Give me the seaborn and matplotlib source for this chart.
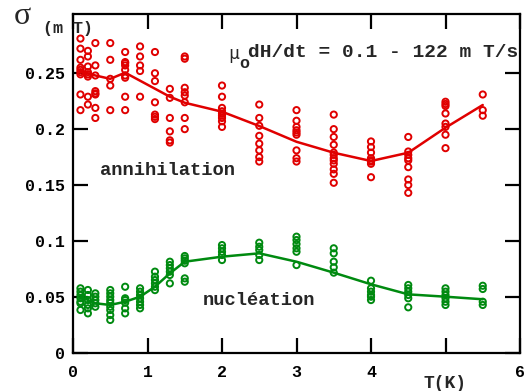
import matplotlib
matplotlib.use("Agg")
import matplotlib.pyplot as plt
import seaborn as sns
import pandas as pd

# annihilation (red) : measured sigma values per temperature
red_T = [0.1, 0.2, 0.3, 0.5, 0.7, 0.9, 1.1, 1.3, 1.5, 2.0, 2.5, 3.0, 3.5, 4.0, 4.5, 5.0, 5.5]
red_sigma = [
    [0.281, 0.272, 0.262, 0.255, 0.253, 0.251, 0.249, 0.231, 0.217],
    [0.270, 0.265, 0.256, 0.251, 0.249, 0.247, 0.229, 0.222],
    [0.277, 0.257, 0.248, 0.234, 0.232, 0.231, 0.219, 0.210],
    [0.277, 0.262, 0.245, 0.239, 0.217],
    [0.269, 0.260, 0.259, 0.257, 0.253, 0.248, 0.246, 0.229, 0.217],
    [0.274, 0.265, 0.257, 0.252, 0.229],
    [0.269, 0.250, 0.243, 0.224, 0.213, 0.211, 0.209],
    [0.236, 0.228, 0.210, 0.198, 0.190, 0.188],
    [0.265, 0.263, 0.237, 0.233, 0.230, 0.224, 0.210, 0.200],
    [0.239, 0.229, 0.219, 0.216, 0.214, 0.212, 0.210, 0.207, 0.202],
    [0.222, 0.210, 0.203, 0.194, 0.187, 0.181, 0.175, 0.171],
    [0.217, 0.2075, 0.202, 0.199, 0.197, 0.195, 0.181, 0.174, 0.171],
    [0.213, 0.200, 0.193, 0.186, 0.179, 0.177, 0.174, 0.172, 0.169, 0.164, 0.160, 0.152],
    [0.189, 0.184, 0.179, 0.174, 0.172, 0.171, 0.169, 0.157],
    [0.193, 0.180, 0.177, 0.174, 0.172, 0.166, 0.155, 0.150, 0.143],
    [0.2245, 0.2225, 0.2207, 0.214, 0.205, 0.202, 0.195, 0.183],
    [0.231, 0.217, 0.212],
]
red_line_T = [0.1, 0.3, 0.5, 0.7, 1.3, 1.5, 2.0, 2.5, 3.0, 3.5, 4.0, 4.5, 5.0, 5.5]
red_line_sigma = [0.252, 0.248, 0.245, 0.2505, 0.229, 0.2236, 0.2156, 0.2028,
                  0.1887, 0.1789, 0.1715, 0.1789, 0.2013, 0.2216]

# nucleation (green)
green_T = [0.1, 0.2, 0.3, 0.5, 0.7, 0.9, 1.1, 1.3, 1.5, 2.0, 2.5, 3.0, 3.5, 4.0, 4.5, 5.0, 5.5]
green_sigma = [
    [0.0576, 0.0546, 0.0516, 0.0487, 0.0456, 0.0442, 0.0382],
    [0.0561, 0.0516, 0.0471, 0.0427, 0.0397, 0.0352],
    [0.0531, 0.0501, 0.0471, 0.0442, 0.0411],
    [0.0561, 0.0531, 0.0501, 0.0471, 0.0447, 0.0411, 0.0382, 0.0337, 0.0293],
    [0.0590, 0.0487, 0.0471, 0.0447, 0.0397, 0.0352],
    [0.0576, 0.0546, 0.0516, 0.0487, 0.0456, 0.0427, 0.0397],
    [0.0725, 0.0680, 0.0650, 0.0620, 0.0590, 0.0560],
    [0.0814, 0.0784, 0.0755, 0.0725, 0.0695, 0.0620],
    [0.0865, 0.0844, 0.0823, 0.0800, 0.0665, 0.0635],
    [0.0963, 0.0934, 0.0903, 0.0874, 0.0829],
    [0.0984, 0.0948, 0.0919, 0.0874, 0.0829],
    [0.1038, 0.1008, 0.0972, 0.0934, 0.0903, 0.0784],
    [0.0934, 0.0889, 0.0814, 0.0764, 0.0716],
    [0.0644, 0.0576, 0.0546, 0.0516, 0.0501, 0.0471],
    [0.0606, 0.0576, 0.0546, 0.0516, 0.0487, 0.0406],
    [0.0576, 0.0546, 0.0516, 0.0487, 0.0456, 0.0427],
    [0.0599, 0.0570, 0.0456, 0.0427],
]
green_line_T = [0.1, 0.3, 0.5, 0.7, 0.9, 1.1, 1.3, 1.5, 2.0, 2.5, 3.0, 3.5, 4.0, 4.5, 5.0, 5.5]
green_line_sigma = [0.0501, 0.0442, 0.0427, 0.0456, 0.0501, 0.0590, 0.0710, 0.0814,
                    0.0859, 0.0889, 0.0814, 0.0716, 0.0612, 0.0522, 0.0501, 0.0478]

# the "5" label is replaced by the axis title T(K) in the original
x_ticks = [0, 1, 2, 3, 4, 5, 6]
x_tick_labels = ["0", "1", "2", "3", "4", "", "6"]
y_ticks = [0, 0.05, 0.1, 0.15, 0.2, 0.25]
y_tick_labels = ["0", "0.05", "0.1", "0.15", "0.2", "0.25"]

RED = "#e00000"
GREEN = "#008a10"
MONO = "Liberation Mono"


def to_frame(cols, vals):
    rows = [(t, s) for t, group in zip(cols, vals) for s in group]
    return pd.DataFrame(rows, columns=["T", "sigma"])


red_df = to_frame(red_T, red_sigma)
green_df = to_frame(green_T, green_sigma)

sns.set_style("ticks")
plt.rcParams["font.family"] = [MONO, "DejaVu Sans"]
plt.rcParams["font.weight"] = "bold"

fig = plt.figure(figsize=(5.29, 3.91), dpi=100)
ax = fig.add_axes([73 / 529, 1 - 352.7 / 391, 447 / 529, 338.7 / 391])

for df, lx, ly, col in [(red_df, red_line_T, red_line_sigma, RED),
                        (green_df, green_line_T, green_line_sigma, GREEN)]:
    sns.lineplot(x=lx, y=ly, color=col, linewidth=1.8, ax=ax, zorder=2)
    sns.scatterplot(data=df, x="T", y="sigma", marker="o", s=20,
                    facecolor="none", edgecolor=col, linewidth=1.4,
                    ax=ax, zorder=3)

ax.set_xlim(0, 6)
ax.set_ylim(0, 0.303)
ax.set_xticks(x_ticks)
ax.set_xticklabels(x_tick_labels)
ax.set_yticks(y_ticks)
ax.set_yticklabels(y_tick_labels)
ax.set_xlabel("")
ax.set_ylabel("")
for sp in ax.spines.values():
    sp.set_linewidth(1.6)
    sp.set_color("black")
ax.tick_params(direction="in", length=11, width=1.6, top=True, right=True,
               labelsize=12, colors="black")
ax.tick_params(axis="x", pad=9)
ax.tick_params(axis="y", pad=6)
for lab in ax.get_xticklabels() + ax.get_yticklabels():
    lab.set_fontweight("bold")

ax.text(2.16, 0.267, "\u03bc", fontsize=13, ha="center", va="center",
        family=["DejaVu Sans Mono"], fontweight="normal")
ax.text(2.3, 0.259, "o", fontsize=12, ha="center", va="center", fontweight="bold")
ax.text(2.35, 0.269, "dH/dt = 0.1 - 122 m T/s", fontsize=14, ha="left",
        va="center", fontweight="bold")
ax.text(0.36, 0.163, "annihilation", fontsize=13.5, ha="left", va="center",
        fontweight="bold")
ax.text(1.745, 0.047, "nucl\u00e9ation", fontsize=13.5, ha="left", va="center",
        fontweight="bold")

fig.text(14 / 529, 1 - 17 / 391, "\u03c3", fontsize=23, va="center", ha="left",
         family=["Liberation Serif"], fontweight="normal")
fig.text(43 / 529, 1 - 28 / 391, "(m T)", fontsize=12, va="center", ha="left",
         fontweight="bold")
fig.text(423 / 529, 1 - 383 / 391, "T(K)", fontsize=13, va="center", ha="left",
         fontweight="bold")

fig.savefig("out.png", dpi=100)
